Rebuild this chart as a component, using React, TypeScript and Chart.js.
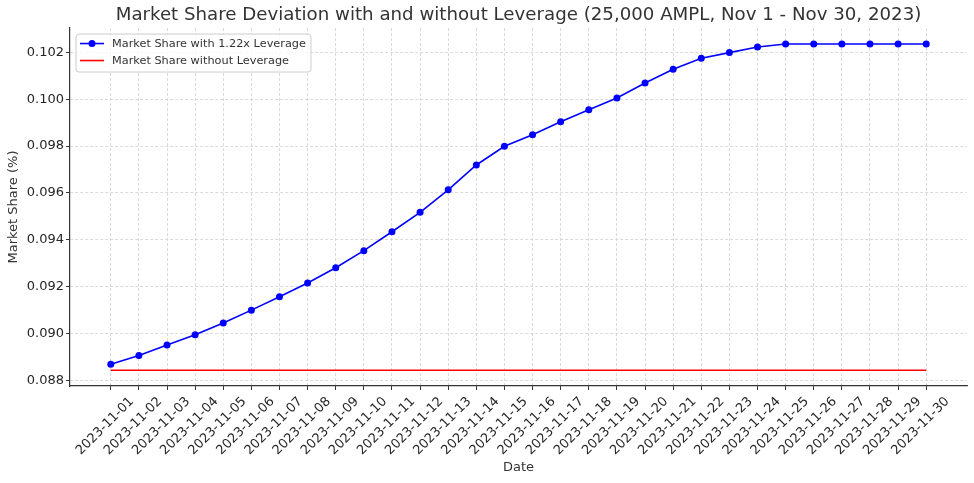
import { useEffect, useRef } from 'react'
import { Chart, registerables } from 'chart.js'

Chart.register(...registerables)
Chart.defaults.font.family = "'DejaVu Sans', sans-serif"
Chart.defaults.color = '#333'

const TITLE = 'Market Share Deviation with and without Leverage (25,000 AMPL, Nov 1 - Nov 30, 2023)'

const dates = [
  '2023-11-01', '2023-11-02', '2023-11-03', '2023-11-04', '2023-11-05',
  '2023-11-06', '2023-11-07', '2023-11-08', '2023-11-09', '2023-11-10',
  '2023-11-11', '2023-11-12', '2023-11-13', '2023-11-14', '2023-11-15',
  '2023-11-16', '2023-11-17', '2023-11-18', '2023-11-19', '2023-11-20',
  '2023-11-21', '2023-11-22', '2023-11-23', '2023-11-24', '2023-11-25',
  '2023-11-26', '2023-11-27', '2023-11-28', '2023-11-29', '2023-11-30',
]

const withLeverage = [
  0.08868, 0.08905, 0.08950, 0.08994, 0.09044,
  0.09099, 0.09156, 0.09215, 0.09280, 0.09353,
  0.09434, 0.09517, 0.09613, 0.09719, 0.09799,
  0.09848, 0.09904, 0.09955, 0.10005, 0.10069,
  0.10128, 0.10175, 0.10199, 0.10223, 0.10236,
  0.10236, 0.10236, 0.10236, 0.10236, 0.10236,
]

const withoutLeverage = [
  0.08842, 0.08842, 0.08842, 0.08842, 0.08842,
  0.08842, 0.08842, 0.08842, 0.08842, 0.08842,
  0.08842, 0.08842, 0.08842, 0.08842, 0.08842,
  0.08842, 0.08842, 0.08842, 0.08842, 0.08842,
  0.08842, 0.08842, 0.08842, 0.08842, 0.08842,
  0.08842, 0.08842, 0.08842, 0.08842, 0.08842,
]

const yTicks = [0.088, 0.090, 0.092, 0.094, 0.096, 0.098, 0.100, 0.102]

// centre the title over the plot area rather than the whole canvas
const titleOverPlot = {
  id: 'titleOverPlot',
  afterLayout(chart: any) {
    if (!chart.titleBlock) return
    chart.titleBlock.left = chart.chartArea.left
    chart.titleBlock.right = chart.chartArea.right
  },
}

// matplotlib-style boxed legend inside the plot, upper left
const boxedLegend = {
  id: 'boxedLegend',
  afterDatasetsDraw(chart: any) {
    const { ctx, chartArea } = chart
    const sets = chart.data.datasets
    ctx.save()
    ctx.font = "11.3px 'DejaVu Sans', sans-serif"
    const textW = Math.max(...sets.map((d: any) => ctx.measureText(d.label).width))
    const x = chartArea.left + 6
    const y = chartArea.top + 6
    const w = 36 + textW + 5
    const h = 38
    ctx.beginPath()
    ctx.roundRect(x, y, w, h, 3)
    ctx.fillStyle = 'rgba(255,255,255,0.8)'
    ctx.fill()
    ctx.strokeStyle = '#cccccc'
    ctx.lineWidth = 1
    ctx.stroke()
    sets.forEach((d: any, i: number) => {
      const cy = y + 9.5 + i * 17
      ctx.beginPath()
      ctx.moveTo(x + 4, cy)
      ctx.lineTo(x + 28, cy)
      ctx.strokeStyle = d.borderColor
      ctx.lineWidth = d.borderWidth
      ctx.stroke()
      if (d.pointRadius > 0) {
        ctx.beginPath()
        ctx.arc(x + 16, cy, d.pointRadius, 0, Math.PI * 2)
        ctx.fillStyle = d.pointBackgroundColor
        ctx.fill()
      }
      ctx.fillStyle = '#333'
      ctx.textBaseline = 'middle'
      ctx.textAlign = 'left'
      ctx.fillText(d.label, x + 36, cy + 0.5)
    })
    ctx.restore()
  },
}

export default function App() {
  const canvasRef = useRef<HTMLCanvasElement>(null)

  useEffect(() => {
    if (!canvasRef.current) return

    const chart = new Chart(canvasRef.current, {
      type: 'line',
      data: {
        datasets: [
          {
            label: 'Market Share with 1.22x Leverage',
            data: withLeverage.map((v, i) => ({ x: i, y: v })),
            borderColor: '#0000ff',
            backgroundColor: '#0000ff',
            pointBackgroundColor: '#0000ff',
            pointBorderColor: '#0000ff',
            borderWidth: 1.6,
            pointRadius: 3.5,
            pointBorderWidth: 0,
          },
          {
            label: 'Market Share without Leverage',
            data: withoutLeverage.map((v, i) => ({ x: i, y: v })),
            borderColor: '#ff0000',
            backgroundColor: '#ff0000',
            borderWidth: 1.6,
            pointRadius: 0,
          },
        ],
      },
      options: {
        animation: false,
        responsive: true,
        maintainAspectRatio: false,
        layout: { padding: { top: 0, right: 7, bottom: 0, left: 0 } },
        plugins: {
          legend: { display: false },
          tooltip: { enabled: false },
          title: {
            display: true,
            text: TITLE,
            color: '#333',
            font: { size: 18.2, weight: 'normal' },
            padding: { top: 4, bottom: 2.2 },
          },
        },
        scales: {
          x: {
            type: 'linear',
            min: -1.45,
            max: 30.45,
            afterBuildTicks: (axis: any) => {
              axis.ticks = dates.map((_, i) => ({ value: i }))
            },
            afterFit: (scale: any) => {
              scale.height = 97
            },
            ticks: {
              autoSkip: false,
              minRotation: 45,
              maxRotation: 45,
              labelOffset: 21,
              padding: 4,
              color: '#262626',
              font: { size: 13 },
              callback: (v: any) => dates[v] ?? '',
            },
            grid: { color: '#d0d0d0', lineWidth: 0.8, tickColor: '#333', tickLength: 4, tickWidth: 1 },
            border: { color: '#333', width: 1.2, dash: [3, 2] },
            title: { display: true, text: 'Date', color: '#333', font: { size: 13 }, padding: { top: 0, bottom: 8 } },
          },
          y: {
            type: 'linear',
            min: 0.08775,
            max: 0.10304,
            afterBuildTicks: (axis: any) => {
              axis.ticks = yTicks.map((v) => ({ value: v }))
            },
            afterFit: (scale: any) => {
              scale.width = 70
            },
            ticks: {
              padding: 2,
              color: '#262626',
              font: { size: 13 },
              callback: (v: any) => Number(v).toFixed(3),
            },
            grid: { color: '#d0d0d0', lineWidth: 0.8, tickColor: '#333', tickLength: 4, tickWidth: 1 },
            border: { color: '#333', width: 1.2, dash: [3, 2] },
            title: { display: true, text: 'Market Share (%)', color: '#333', font: { size: 13 }, padding: { top: 6, bottom: 0 } },
          },
        },
      },
      plugins: [titleOverPlot, boxedLegend],
    })

    return () => chart.destroy()
  }, [])

  return (
    <div style={{ position: 'fixed', left: 0, top: 0, width: 974, height: 483, background: '#fff' }}>
      <canvas ref={canvasRef}></canvas>
    </div>
  )
}
